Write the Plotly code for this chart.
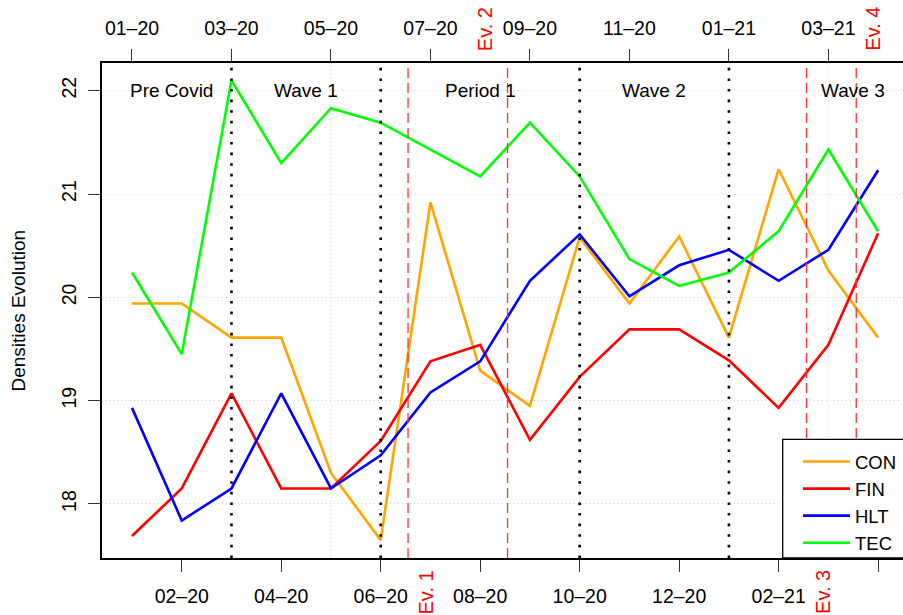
import plotly.graph_objects as go

months = ["01–20", "02–20", "03–20", "04–20", "05–20", "06–20", "07–20", "08–20",
          "09–20", "10–20", "11–20", "12–20", "01–21", "02–21", "03–21", "04–21"]
con = [19.94, 19.94, 19.61, 19.61, 18.30, 17.65, 20.92, 19.29, 18.95, 20.58, 19.94, 20.59, 19.61, 21.24, 20.26, 19.61]
fin = [17.69, 18.15, 19.07, 18.15, 18.15, 18.61, 19.38, 19.54, 18.62, 19.23, 19.69, 19.69, 19.39, 18.93, 19.54, 20.62]
hlt = [18.93, 17.84, 18.15, 19.07, 18.15, 18.47, 19.08, 19.38, 20.16, 20.61, 20.01, 20.31, 20.46, 20.16, 20.46, 21.23]
tec = [20.24, 19.45, 22.10, 21.30, 21.83, 21.69, 21.43, 21.17, 21.69, 21.17, 20.37, 20.11, 20.24, 20.64, 21.43, 20.64]

series_names = ["CON", "FIN", "HLT", "TEC"]
series_colors = ["#FFA500", "#FF0000", "#0000FF", "#00FF00"]

wave_bounds = [2, 5, 9, 12]
period_labels = ["Pre Covid", "Wave 1", "Period 1", "Wave 2", "Wave 3"]
period_pos = [0.8, 3.5, 7.0, 10.5, 14.5]

event_pos = [5.55, 7.55, 13.56, 14.56]
event_labels = ["Ev. 1", "Ev. 2", "Ev. 3", "Ev. 4"]
event_label_pos = [5.92, 7.10, 13.89, 14.89]
event_side = ["bottom", "top", "bottom", "top"]

grid_x = [4, 9, 14]
y_ticks = [18, 19, 20, 21, 22]

FONT = "Liberation Sans, Arial, Helvetica, sans-serif"
W, H = 903, 615
L, R, T, B = 102, 0, 63, 57
XR = [-0.603, 15.5]
YR = [17.477, 22.268]

x = list(range(len(months)))

fig = go.Figure()
for name, col, vals in zip(series_names, series_colors, [con, fin, hlt, tec]):
    fig.add_trace(go.Scatter(x=x, y=vals, mode="lines", name=name,
                             line=dict(color=col, width=2.6)))

# dummy trace for top axis
fig.add_trace(go.Scatter(x=[x[0]], y=[con[0]], xaxis="x2", mode="lines",
                         showlegend=False, hoverinfo="skip", line=dict(width=0)))

shapes = []
for gx in grid_x:
    shapes.append(dict(type="line", xref="x", yref="paper", x0=gx, x1=gx, y0=0, y1=1,
                       layer="below", line=dict(color="#d3d3d3", width=1, dash="1px,3px")))
for wb in wave_bounds:
    shapes.append(dict(type="line", xref="x", yref="paper", x0=wb, x1=wb, y0=0, y1=1,
                       line=dict(color="black", width=2.6, dash="2.6px,8px")))
for ev in event_pos:
    shapes.append(dict(type="line", xref="x", yref="paper", x0=ev, x1=ev, y0=0, y1=1,
                       line=dict(color="#FF3030", width=1.3, dash="10px,5px")))

pw = W - L - R
ph = H - T - B
def px_x(p):
    return (p - L) / pw
def px_y(p):
    return (H - B - p) / ph

# legend box
shapes.append(dict(type="rect", xref="paper", yref="paper", x0=px_x(782.7), x1=px_x(915),
                   y0=0, y1=px_y(439.3), fillcolor="white",
                   line=dict(color="black", width=1.3)))

annotations = []
for lab, pos in zip(period_labels, period_pos):
    annotations.append(dict(x=pos, y=22, xref="x", yref="y", text=lab, showarrow=False,
                            font=dict(size=19, color="black", family=FONT),
                            xanchor="center", yanchor="middle"))
for lab, pos, side in zip(event_labels, event_label_pos, event_side):
    if side == "top":
        annotations.append(dict(x=pos, y=px_y(53), xref="x", yref="paper", text=lab,
                                showarrow=False, textangle=-90, yanchor="bottom",
                                xanchor="center",
                                font=dict(size=20, color="#FF0000", family=FONT)))
    else:
        annotations.append(dict(x=pos, y=px_y(568), xref="x", yref="paper", text=lab,
                                showarrow=False, textangle=-90, yanchor="top",
                                xanchor="center",
                                font=dict(size=20, color="#FF0000", family=FONT)))
annotations.append(dict(x=px_x(18), y=0.5, xref="paper", yref="paper",
                        text="Densities Evolution", showarrow=False, textangle=-90,
                        xanchor="center", yanchor="middle",
                        font=dict(size=19, color="black", family=FONT)))

axis_common = dict(showgrid=False, zeroline=False, ticks="outside", ticklen=12,
                   tickwidth=1.3, tickcolor="#333333", showline=True, linecolor="black",
                   linewidth=1.5, automargin=False,
                   tickfont=dict(size=19.5, color="black", family=FONT))

fig.update_layout(
    width=W, height=H,
    margin=dict(l=L, r=R, t=T, b=B, pad=0, autoexpand=False),
    paper_bgcolor="white", plot_bgcolor="white",
    showlegend=True,
    legend=dict(x=px_x(798), y=px_y(443), xanchor="left", yanchor="top",
                bgcolor="rgba(0,0,0,0)", borderwidth=0, itemwidth=47,
                font=dict(size=18.5, color="black", family=FONT),
                tracegroupgap=0),
    xaxis=dict(range=XR, tickvals=x[1::2], ticktext=months[1::2],
               ticklabelstandoff=8, **axis_common),
    xaxis2=dict(range=XR, overlaying="x", side="top", tickvals=x[0::2],
                ticktext=months[0::2], ticklabelstandoff=6, **axis_common),
    yaxis=dict(range=YR, tickvals=y_ticks, ticktext=[str(v) for v in y_ticks],
               tickangle=-90, ticklabelstandoff=4, **{**axis_common, "showgrid": True},
               gridcolor="#d3d3d3", gridwidth=1, griddash="1px,3px"),
    shapes=shapes,
    annotations=annotations,
)

fig.write_html("out.html", config={"displayModeBar": False},
               post_script="document.body.style.margin='0';document.body.style.overflow='hidden';")
